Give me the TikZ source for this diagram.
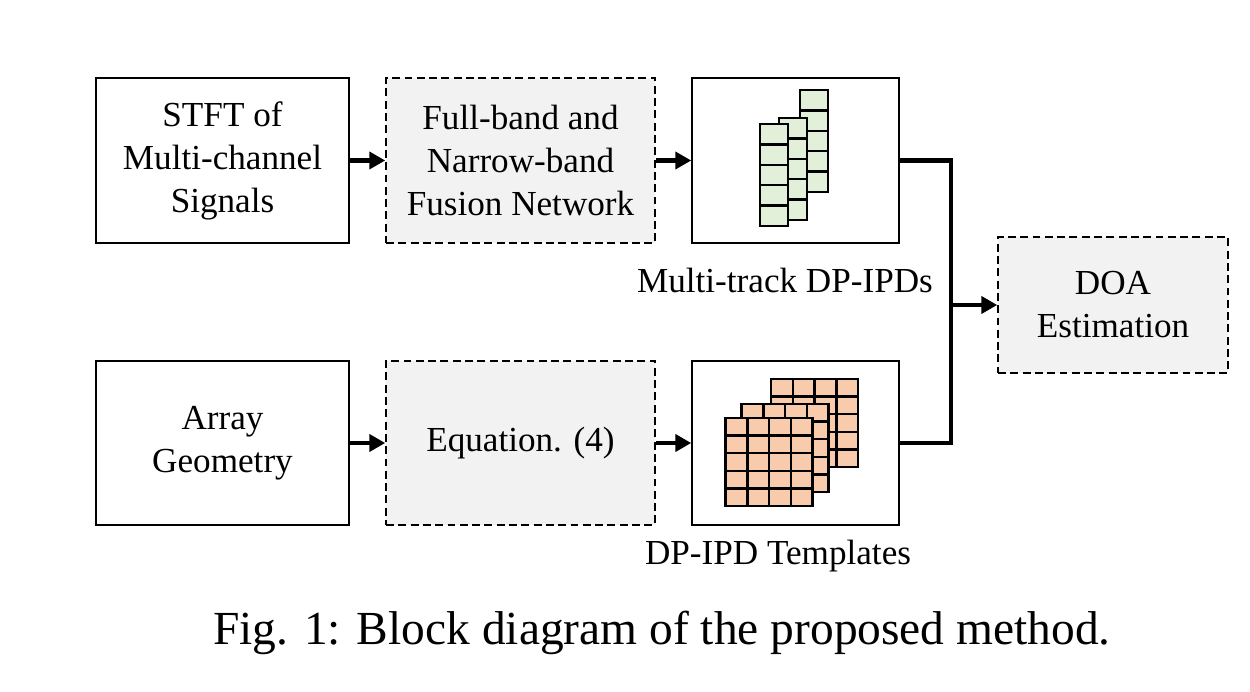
\documentclass[tikz,border=0pt]{standalone}
\usepackage{fontspec}
\setmainfont{Liberation Serif}
\usetikzlibrary{arrows.meta}

\definecolor{boxgray}{HTML}{F2F2F2}
\definecolor{ipdgreen}{HTML}{E2F0D9}
\definecolor{tplorange}{HTML}{F8CBAD}

\tikzset{
  blk/.style={draw, line width=0.85pt, minimum height=3.3cm, align=center,
    font=\fontsize{20}{24.5}\selectfont},
  dblk/.style={blk, fill=boxgray, dash pattern=on 4.5pt off 2.5pt},
  flow/.style={line width=2.3pt, -{Triangle[length=0.32cm,width=0.34cm]}},
  lbl/.style={font=\fontsize{20}{24.5}\selectfont},
  cell/.style={draw, line width=1.4pt},
}

\begin{document}
\begin{tikzpicture}
\useasboundingbox (0,0) rectangle (25,-13.84);

\node[blk, minimum width=5.06cm] (stft) at (4.45,-3.21) {STFT of\\Multi-channel\\Signals};
\node[dblk, minimum width=5.38cm] (fnet) at (10.41,-3.21) {Full-band and\\Narrow-band\\Fusion Network};
\node[blk, minimum width=4.14cm] (ipd) at (15.91,-3.21) {};

\node[blk, minimum width=5.06cm, minimum height=3.28cm] (geo) at (4.45,-8.86) {Array\\Geometry};
\node[dblk, minimum width=5.38cm, minimum height=3.28cm] (eqn) at (10.41,-8.86) {Equation. (4)};
\node[blk, minimum width=4.14cm, minimum height=3.28cm] (tpl) at (15.91,-8.86) {};

\node[dblk, minimum width=4.6cm, minimum height=2.72cm] (doa) at (22.26,-6.1) {DOA\\Estimation};

\node[lbl] (ipdlbl) at (15.7,-5.6) {Multi-track DP-IPDs};
\node[lbl] (tpllbl) at (15.56,-11.12) {DP-IPD Templates};

\node[font=\fontsize{27}{32}\selectfont] (cap) at (13.24,-12.66) {Fig. 1: Block diagram of the proposed method.};

% multi-track DP-IPDs (back to front)
\foreach \x/\y in {16.0/-3.84, 15.58/-4.4, 15.2/-4.52}
  \foreach \j in {0,...,4}
    \draw[cell, fill=ipdgreen] (\x,\y+\j*0.408) rectangle ++(0.56,0.408);

% DP-IPD templates (back to front)
\foreach \x/\y in {15.42/-9.34, 14.83/-9.84, 14.51/-10.12} {
  \foreach \i in {0,...,3}
    \foreach \j in {0,...,4}
      \draw[cell, fill=tplorange] (\x+\i*0.436,\y+\j*0.352) rectangle ++(0.436,0.352);
}

\draw[flow] (stft) -- (fnet);
\draw[flow] (fnet) -- (ipd);
\draw[flow] (geo) -- (eqn);
\draw[flow] (eqn) -- (tpl);

\coordinate (jn) at (19.02,-6.1);
\draw[line width=2.8pt] (ipd.east) -| (jn) |- (tpl.east);
\draw[flow] (jn) -- (doa.west);
\end{tikzpicture}
\end{document}
